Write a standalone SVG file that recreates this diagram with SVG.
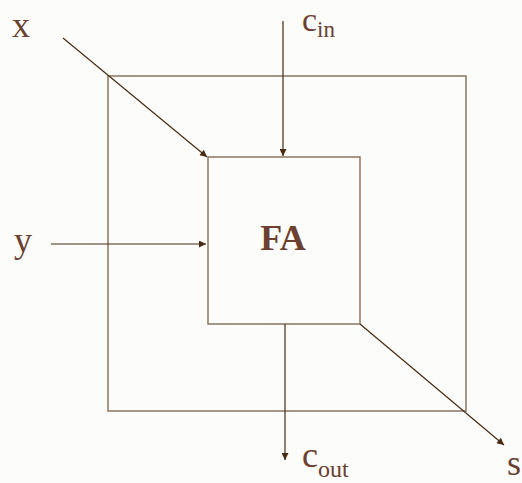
<svg xmlns="http://www.w3.org/2000/svg" width="522" height="483" viewBox="0 0 522 483">
<style>
.box{fill:none;stroke:#8a7560;stroke-width:1.5}
.conn{stroke:#4a2a12;stroke-width:1.2;fill:none}
.lbl{font-family:"Liberation Serif",serif;font-size:36px;fill:#6b4030}
.sub{font-size:24px}
.fa{font-family:"Liberation Serif",serif;font-size:36px;font-weight:bold;fill:#6b4030}
</style>
<defs>
<marker id="ah" viewBox="0 0 10 10" refX="10" refY="5" markerWidth="9" markerHeight="7" markerUnits="userSpaceOnUse" orient="auto">
<path d="M0,0 L10,5 L0,10 Z" fill="#4a2a12"/>
</marker>
</defs>
<rect width="522" height="483" fill="#fcfcfa"/>
<g id="outer"><rect class="box" x="108" y="76" width="358" height="335"/></g>
<g id="fa"><rect class="box" x="208" y="157" width="152" height="167"/>
<text class="fa" x="283" y="250" text-anchor="middle">FA</text></g>
<g id="connectors">
<line class="conn" x1="63" y1="38" x2="207" y2="157" marker-end="url(#ah)"/>
<line class="conn" x1="51" y1="244" x2="206" y2="244" marker-end="url(#ah)"/>
<line class="conn" x1="283" y1="21" x2="283" y2="156" marker-end="url(#ah)"/>
<line class="conn" x1="285" y1="324" x2="285" y2="460" marker-end="url(#ah)"/>
<line class="conn" x1="360" y1="324" x2="504" y2="445" marker-end="url(#ah)"/>
</g>
<g id="labels">
<text class="lbl" x="12" y="37">x</text>
<text class="lbl" x="14" y="252">y</text>
<text class="lbl" x="302" y="31" style="font-size:34px">c<tspan style="font-size:23px" dy="6">in</tspan></text>
<text class="lbl" x="302" y="467">c<tspan class="sub" dy="10">out</tspan></text>
<text class="lbl" x="507" y="475">s</text>
</g>
</svg>
